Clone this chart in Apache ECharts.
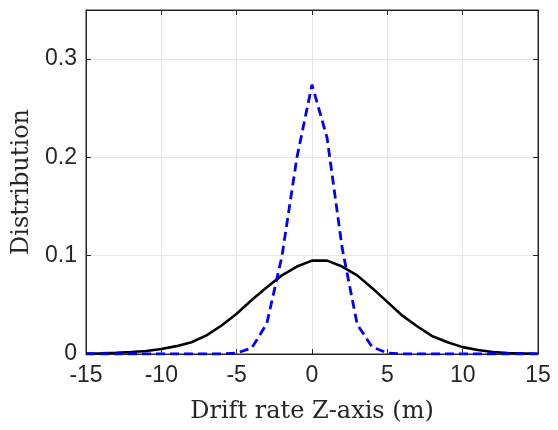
<!DOCTYPE html>
<html>
<head>
<meta charset="utf-8">
<script src="https://cdn.jsdelivr.net/npm/echarts@6/dist/echarts.min.js"></script>
<style>html,body{margin:0;padding:0;background:#fff}#c{width:558px;height:430px}</style>
</head>
<body>
<div id="c"></div>
<script>
var xs = [-15,-14,-13,-12,-11,-10,-9,-8,-7,-6,-5,-4,-3,-2,-1,0,1,2,3,4,5,6,7,8,9,10,11,12,13,14,15];
var blackSeries = [0.0004,0.0007,0.0012,0.002,0.003,0.005,0.008,0.012,0.019,0.029,0.041,0.055,0.068,0.080,0.089,0.095,0.095,0.089,0.080,0.067,0.053,0.039,0.028,0.018,0.012,0.007,0.004,0.002,0.001,0.0006,0.0003];
var blueSeries = [0,0,0,0,0,0,0,0,0,0,0.001,0.006,0.031,0.099,0.200,0.274,0.220,0.108,0.030,0.007,0.001,0,0,0,0,0,0,0,0,0,0];
var xTicks = [-15,-10,-5,0,5,10,15];
var yTicks = [0,0.1,0.2,0.3];

function pairs(ys){ return xs.map(function(x,i){ return [x, ys[i]]; }); }

var chart = echarts.init(document.getElementById('c'), null, {renderer:'canvas'});
var tickFont = {fontFamily:'"Liberation Sans", Arial, sans-serif', fontSize:23, color:'#262626'};
var axisLine = {show:true, onZero:false, lineStyle:{color:'#262626', width:1}};
var tick = {show:true, inside:true, length:5, lineStyle:{color:'#262626'}};
var titleFont = {fontFamily:'"DejaVu Serif", serif', fontSize:24, color:'#262626'};
chart.setOption({
  animation:false,
  backgroundColor:'#ffffff',
  grid:{left:86, right:20, top:10, bottom:76, show:true, borderColor:'#262626', borderWidth:1, backgroundColor:'transparent'},
  xAxis:[{
    type:'value', min:-15, max:15, interval:5, position:'bottom',
    axisLine:axisLine, axisTick:tick,
    axisLabel:Object.assign({margin:10, formatter:function(v){return xTicks.indexOf(v)>=0?String(v):'';}}, tickFont),
    splitLine:{show:true, lineStyle:{color:'#e6e6e6', width:1}},
    name:'Drift rate Z-axis (m)', nameLocation:'middle', nameGap:46,
    nameTextStyle:titleFont
  },{
    type:'value', min:-15, max:15, interval:5, position:'top',
    axisLine:axisLine, axisTick:tick,
    axisLabel:{show:false}, splitLine:{show:false}
  }],
  yAxis:[{
    type:'value', min:0, max:0.35, interval:0.1, position:'left',
    axisLine:axisLine, axisTick:tick,
    axisLabel:Object.assign({margin:9, formatter:function(v){ var r=Math.round(v*10)/10; return yTicks.indexOf(r)>=0 && Math.abs(v-r)<1e-9 ? String(r) : ''; }}, tickFont),
    splitLine:{show:true, lineStyle:{color:'#e6e6e6', width:1}},
    name:'Distribution', nameLocation:'middle', nameGap:47,
    nameTextStyle:titleFont
  },{
    type:'value', min:0, max:0.35, interval:0.1, position:'right',
    axisLine:axisLine, axisTick:tick,
    axisLabel:{show:false}, splitLine:{show:false}
  }],
  series:[{
    type:'line', data:pairs(blackSeries), showSymbol:false, symbol:'none', smooth:false,
    lineStyle:{color:'#000000', width:2.6}, z:3
  },{
    type:'line', data:pairs(blueSeries), showSymbol:false, symbol:'none', smooth:false,
    lineStyle:{color:'#0000ff', width:2.8, type:[9,5]}, z:4
  }]
});
</script>
</body>
</html>
